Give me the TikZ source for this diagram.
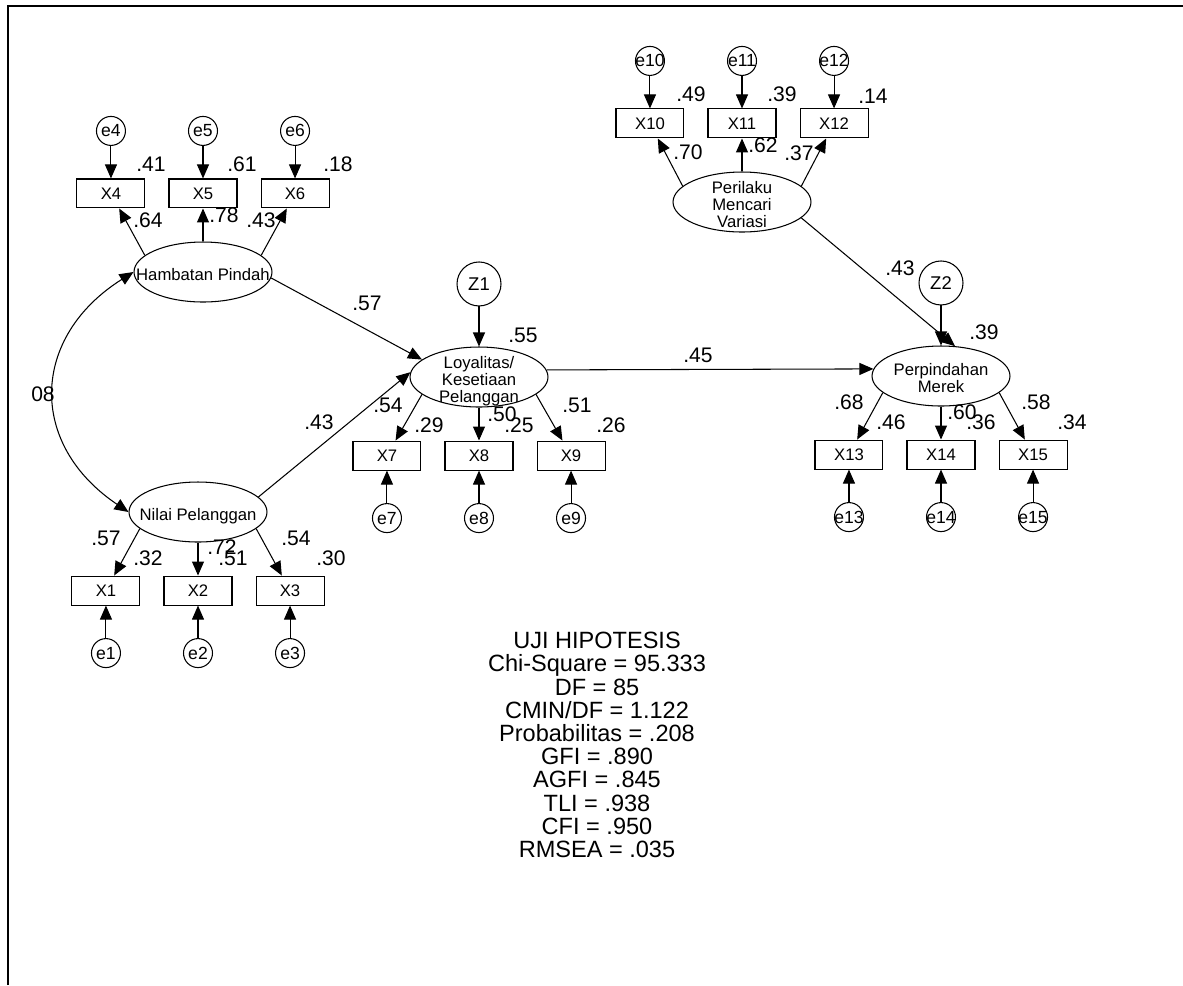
\documentclass[tikz,border=0pt]{standalone}
\usepackage{fontspec}
\setmainfont{Liberation Sans}
\usetikzlibrary{arrows.meta,positioning,shapes.geometric}
\newcommand{\ctr}[1]{\makebox[0pt]{#1}}
\newcommand{\lvtext}[1]{\makebox[0pt]{\raisebox{-5pt}[0pt][0pt]{\begin{tabular}{@{}c@{}}#1\end{tabular}}}}
\tikzset{
  latent/.style={ellipse,draw,line width=0.6pt,fill=white,inner sep=0pt,
    minimum width=27.6mm,minimum height=12mm,font={\fontsize{9.5}{9.5}\selectfont}},
  indicator/.style={rectangle,draw,line width=0.6pt,fill=white,inner sep=0pt,
    minimum width=13.6mm,minimum height=5.8mm,font={\fontsize{9.5}{9.5}\selectfont}},
  errterm/.style={circle,draw,line width=0.6pt,fill=white,inner sep=0pt,
    minimum size=5.8mm,font={\fontsize{10}{10}\selectfont}},
  disturb/.style={circle,draw,line width=0.6pt,fill=white,inner sep=0pt,
    minimum size=8.8mm,font={\fontsize{10.5}{10.5}\selectfont}},
  coef/.style={inner sep=0pt,font={\fontsize{12}{12}\selectfont}},
  regress/.style={-{Triangle[length=2.8mm,width=2.4mm]},line width=0.6pt},
  covar/.style={{Triangle[length=2.8mm,width=2.4mm]}-{Triangle[length=2.8mm,width=2.4mm]},line width=0.6pt},
  fitstats/.style={align=center,inner sep=0pt,font={\fontsize{13.4}{13.2}\selectfont}}
}
\begin{document}
\begin{tikzpicture}[x=0.02cm,y=-0.02cm]
  \useasboundingbox (0,0) rectangle (1183,985);
  \draw[line width=1.1pt] (8,985) -- (8,6) -- (1183,6);

  % latent variables
  \node[latent] (hp) at (203,272) {\lvtext{Hambatan Pindah}};
  \node[latent] (nl) at (198,512) {\lvtext{Nilai Pelanggan}};
  \node[latent,font={\fontsize{9.5}{8.7}\selectfont}] (lp) at (479,377) {\lvtext{Loyalitas/\\Kesetiaan\\Pelanggan}};
  \node[latent] (pm) at (941,376) {\lvtext{Perpindahan\\Merek}};
  \node[latent] (pmv) at (742,202) {\lvtext{Perilaku\\Mencari\\Variasi}};

  % Hambatan Pindah
  \node[indicator,above=6.6mm of hp] (x5) {X5};
  \node[indicator,left=4.6mm of x5] (x4) {X4};
  \node[indicator,right=4.6mm of x5] (x6) {X6};
  \node[errterm,above=6.5mm of x4] (e4) {\ctr{e4}};
  \node[errterm,above=6.5mm of x5] (e5) {\ctr{e5}};
  \node[errterm,above=6.5mm of x6] (e6) {\ctr{e6}};

  % Nilai Pelanggan
  \node[indicator,below=6.6mm of nl] (x2) {X2};
  \node[indicator,left=4.6mm of x2] (x1) {X1};
  \node[indicator,right=4.6mm of x2] (x3) {X3};
  \node[errterm,below=6.5mm of x1] (e1) {\ctr{e1}};
  \node[errterm,below=6.5mm of x2] (e2) {\ctr{e2}};
  \node[errterm,below=6.5mm of x3] (e3) {\ctr{e3}};

  % Loyalitas
  \node[disturb,above=8mm of lp] (z1) {Z1};
  \node[indicator,below=6.6mm of lp] (x8) {X8};
  \node[indicator,left=4.6mm of x8] (x7) {X7};
  \node[indicator,right=4.6mm of x8] (x9) {X9};
  \node[errterm,below=6.5mm of x7] (e7) {\ctr{e7}};
  \node[errterm,below=6.5mm of x8] (e8) {\ctr{e8}};
  \node[errterm,below=6.5mm of x9] (e9) {\ctr{e9}};

  % Perilaku Mencari Variasi
  \node[indicator,above=6.6mm of pmv] (x11) {X11};
  \node[indicator,left=4.6mm of x11] (x10) {X10};
  \node[indicator,right=4.6mm of x11] (x12) {X12};
  \node[errterm,above=6.5mm of x10] (e10) {\ctr{e10}};
  \node[errterm,above=6.5mm of x11] (e11) {\ctr{e11}};
  \node[errterm,above=6.5mm of x12] (e12) {\ctr{e12}};

  % Perpindahan Merek
  \node[disturb,above=8mm of pm] (z2) {Z2};
  \node[indicator,below=6.6mm of pm] (x14) {X14};
  \node[indicator,left=4.6mm of x14] (x13) {X13};
  \node[indicator,right=4.6mm of x14] (x15) {X15};
  \node[errterm,below=6.5mm of x13] (e13) {\ctr{e13}};
  \node[errterm,below=6.5mm of x14] (e14) {\ctr{e14}};
  \node[errterm,below=6.5mm of x15] (e15) {\ctr{e15}};

  % measurement paths
  \draw[regress] (hp.164) -- (x4);
  \draw[regress] (hp) -- (x5);
  \draw[regress] (hp.16) -- (x6);
  \draw[regress] (nl.196) -- (x1);
  \draw[regress] (nl) -- (x2);
  \draw[regress] (nl.344) -- (x3);
  \draw[regress] (lp.197) -- (x7);
  \draw[regress] (lp) -- (x8);
  \draw[regress] (lp.343) -- (x9);
  \draw[regress] (pmv.165) -- (x10);
  \draw[regress] (pmv) -- (x11);
  \draw[regress] (pmv.15) -- (x12);
  \draw[regress] (pm.196) -- (x13);
  \draw[regress] (pm) -- (x14);
  \draw[regress] (pm.344) -- (x15);
  \foreach \i in {1,...,15}
    \draw[regress] (e\i) -- (x\i);

  % structural paths
  \draw[regress] (hp.-5) -- (lp.163);
  \draw[regress] (nl.14) -- (lp.176);
  \draw[regress] (lp.6) -- (pm.174);
  \draw[regress] (pmv.345) -- (pm.65);
  \draw[regress] (z1) -- (lp);
  \draw[regress] (z2) -- (pm);
  \draw[covar] (hp.west) .. controls +(-103,65) and +(-101,-68) .. (nl.west);

  % estimates
  \node[coef] (sq4) at (151,164) {.41};
  \node[coef] (sq5) at (242,164) {.61};
  \node[coef] (sq6) at (338,164) {.18};
  \node[coef] (ld4) at (148,220) {.64};
  \node[coef] (ld5) at (224,215) {.78};
  \node[coef] (ld6) at (261,220) {.43};
  \node[coef] (ld1) at (106,538) {.57};
  \node[coef] (sq1) at (148,558) {.32};
  \node[coef] (ld2) at (222,547) {.72};
  \node[coef] (sq2) at (233,558) {.51};
  \node[coef] (ld3) at (296,538) {.54};
  \node[coef] (sq3) at (331,558) {.30};
  \node[coef] (cov) at (43,394) {08};
  \node[coef] (bhp) at (367,303) {.57};
  \node[coef] (bnl) at (319,422) {.43};
  \node[coef] (rlp) at (523,335) {.55};
  \node[coef] (blp) at (698,355) {.45};
  \node[coef] (bpmv) at (900,268) {.43};
  \node[coef] (rpm) at (984,332) {.39};
  \node[coef] (ld7) at (388,405) {.54};
  \node[coef] (sq7) at (429,425) {.29};
  \node[coef] (ld8) at (502,414) {.50};
  \node[coef] (sq8) at (519,425) {.25};
  \node[coef] (ld9) at (577,405) {.51};
  \node[coef] (sq9) at (611,425) {.26};
  \node[coef] (sq10) at (691,94) {.49};
  \node[coef] (sq11) at (782,94) {.39};
  \node[coef] (sq12) at (873,96) {.14};
  \node[coef] (ld10) at (688,152) {.70};
  \node[coef] (ld11) at (763,145) {.62};
  \node[coef] (ld12) at (799,153) {.37};
  \node[coef] (ld13) at (849,402) {.68};
  \node[coef] (sq13) at (891,422) {.46};
  \node[coef] (ld14) at (962,412) {.60};
  \node[coef] (sq14) at (981,422) {.36};
  \node[coef] (ld15) at (1036,402) {.58};
  \node[coef] (sq15) at (1072,422) {.34};

  \node[fitstats] (fit) at (597,745) {UJI HIPOTESIS\\Chi-Square = 95.333\\DF = 85\\CMIN/DF = 1.122\\Probabilitas = .208\\GFI = .890\\AGFI = .845\\TLI = .938\\CFI = .950\\RMSEA = .035};
\end{tikzpicture}
\end{document}
